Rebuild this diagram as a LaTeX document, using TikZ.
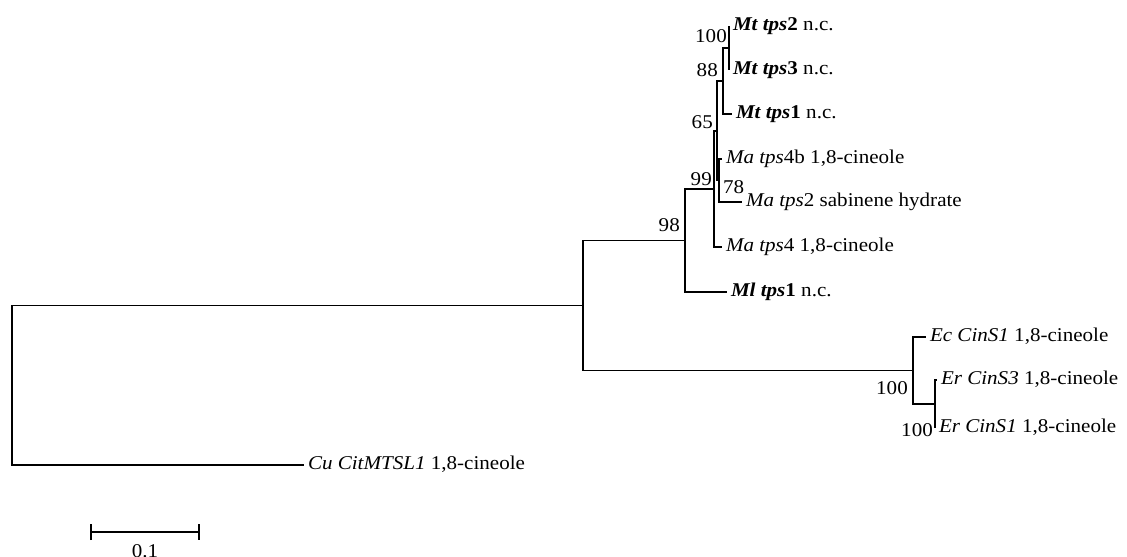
\documentclass[tikz,border=0pt]{standalone}
\usepackage{fontspec}
\setmainfont{Liberation Serif}[FakeStretch=1.08]
\usepackage{tikz}
\usetikzlibrary{arrows.meta, positioning}
\usepackage{xcolor}
\definecolor{BranchBlack}{HTML}{000000}
\tikzset{
  % Leaf label
  leaf/.style={
    anchor=west, inner xsep=4bp, inner ysep=0pt,
    outer sep=0pt, text height=13.5bp, text depth=4bp,
    font=\fontsize{19.5bp}{23bp}\selectfont
  },
  % Bootstrap value
  boot/.style={
    anchor=east, inner sep=0pt,
    font=\fontsize{19.5bp}{23bp}\selectfont
  },
  % Branch line
  branch/.style={
    line width=1.6bp, draw=BranchBlack
  },
  % Scale bar
  scalebar/.style={
    {Bar[width=16bp]}-{Bar[width=16bp]},
    line width=1.6bp, draw=BranchBlack
  }
}

\begin{document}
\begin{tikzpicture}[x=1bp, y=-1bp]

\useasboundingbox (0,0) rectangle (1127,557);

% ── leaves ─────────────────────────────────────────────
\node[leaf] (mt2)  at (729,26)  {\textbf{\textit{Mt tps}2} n.c.};
\node[leaf] (mt3)  at (729,70)  {\textbf{\textit{Mt tps}3} n.c.};
\node[leaf] (mt1)  at (732,114) {\textbf{\textit{Mt tps}1} n.c.};
\node[leaf] (ma4b) at (722,159) {\textit{Ma tps}4b 1,8-cineole};
\node[leaf] (ma2)  at (742,202) {\textit{Ma tps}2 sabinene hydrate};
\node[leaf] (ma4)  at (722,247) {\textit{Ma tps}4 1,8-cineole};
\node[leaf] (ml1)  at (727,292) {\textbf{\textit{Ml tps}1} n.c.};
\node[leaf] (ec1)  at (926,337) {\textit{Ec CinS1} 1,8-cineole};
\node[leaf] (er3)  at (937,380) {\textit{Er CinS3} 1,8-cineole};
\node[leaf] (er1)  at (935,428) {\textit{Er CinS1} 1,8-cineole};
\node[leaf] (cu)   at (304,465) {\textit{Cu CitMTSL1} 1,8-cineole};

% ── internal nodes ─────────────────────────────────────
\coordinate (n100a) at (729,48);
\coordinate (n88)   at (723,81);
\coordinate (n78)   at (719,180.5);
\coordinate (n65)   at (717,131);
\coordinate (n99)   at (714,189);
\coordinate (n98)   at (685,240.5);
\coordinate (n100c) at (935,404);
\coordinate (n100b) at (913,370.5);
\coordinate (nA)    at (583,305.5);
\coordinate (root)  at (12,385);

% ── bootstrap values ───────────────────────────────────
\node[boot] (bs100a) at (727,36)  {100};
\node[boot] (bs88)   at (718,70)  {88};
\node[boot] (bs65)   at (713,122) {65};
\node[boot] (bs99)   at (712,179) {99};
\node[boot] (bs98)   at (680,225) {98};
\node[boot, anchor=west] (bs78) at (723,187) {78};
\node[boot] (bs100b) at (908,388) {100};
\node[boot] (bs100c) at (933,430) {100};

% ── scale bar ──────────────────────────────────────────
\coordinate (sbl) at (90,532);
\coordinate (sbr) at (200,532);
\node[boot, anchor=north] (sblabel) at (145,544) {0.1};
\draw[scalebar] (sbl) -- (sbr);

\draw[branch] (root)  |- (nA);
\draw[branch] (root)  |- (cu.west);
\draw[branch] (nA)    |- (n98);
\draw[branch] (nA)    |- (n100b);
\draw[branch] (n98)   |- (n99);
\draw[branch] (n98)   |- (ml1.west);
\draw[branch] (n99)   |- (n65);
\draw[branch] (n99)   |- (ma4.west);
\draw[branch] (n65)   |- (n88);
\draw[branch] (n65)   |- (n78);
\draw[branch] (n88)   |- (n100a);
\draw[branch] (n88)   |- (mt1.west);
\draw[branch] (n100a) |- (mt2.west);
\draw[branch] (n100a) |- (mt3.west);
\draw[branch] (n78)   |- (ma4b.west);
\draw[branch] (n78)   |- (ma2.west);
\draw[branch] (n100b) |- (ec1.west);
\draw[branch] (n100b) |- (n100c);
\draw[branch] (n100c) |- (er3.west);
\draw[branch] (n100c) |- (er1.west);

\end{tikzpicture}
\end{document}
